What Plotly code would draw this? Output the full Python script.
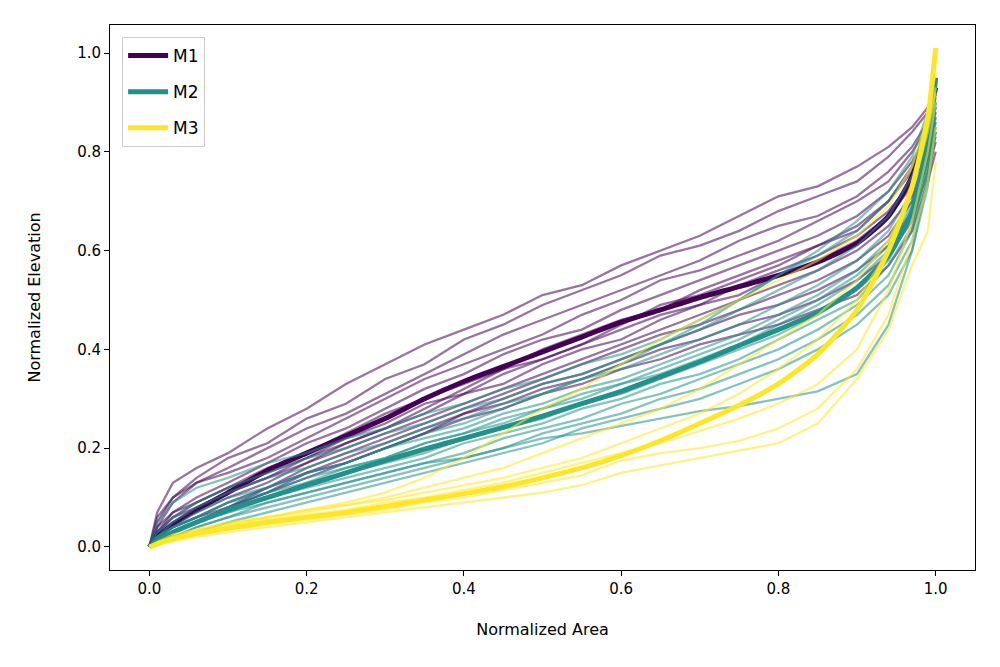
import plotly.graph_objects as go

# Normalized area sample positions
area = [0, .01, .03, .06, .1, .15, .2, .25, .3, .35, .4, .45, .5, .55, .6,
        .65, .7, .75, .8, .85, .9, .94, .97, .99, 1.0]

# Mean hypsometric curves
m1_mean = [0, .02, .045, .075, .11, .155, .19, .225, .26, .30, .335, .365, .395, .425,
           .455, .48, .505, .527, .55, .577, .615, .67, .75, .86, .93]
m2_mean = [0, .012, .03, .05, .075, .10, .125, .15, .175, .198, .22, .242, .265, .29,
           .315, .345, .375, .408, .44, .475, .525, .59, .68, .82, .95]
m3_mean = [0, .006, .016, .027, .038, .05, .06, .07, .082, .095, .108, .122, .14, .16,
           .185, .215, .25, .287, .33, .39, .48, .60, .73, .87, 1.01]

# Individual basins, M1
m1_lines = [
    [0, .07, .13, .16, .19, .24, .28, .33, .37, .41, .44, .47, .51, .53, .57, .60, .63, .67, .71, .73, .77, .81, .85, .89, .93],
    [0, .05, .10, .14, .18, .21, .26, .29, .34, .37, .42, .45, .49, .52, .55, .59, .61, .64, .68, .71, .74, .79, .84, .88, .91],
    [0, .04, .09, .13, .16, .20, .24, .27, .31, .35, .39, .43, .46, .49, .52, .55, .58, .62, .65, .67, .71, .76, .81, .86, .90],
    [0, .06, .10, .13, .15, .18, .22, .26, .30, .34, .37, .40, .43, .47, .50, .54, .56, .59, .62, .66, .70, .74, .80, .85, .89],
    [0, .03, .07, .10, .13, .17, .21, .24, .28, .32, .35, .39, .42, .44, .48, .51, .54, .57, .60, .63, .67, .72, .78, .84, .88],
    [0, .03, .06, .09, .12, .16, .19, .23, .27, .30, .33, .36, .40, .43, .46, .48, .52, .55, .58, .61, .65, .70, .76, .83, .87],
    [0, .04, .07, .09, .12, .15, .18, .22, .25, .29, .31, .35, .38, .41, .44, .47, .49, .53, .56, .59, .63, .68, .74, .82, .86],
    [0, .02, .05, .08, .11, .14, .17, .21, .24, .27, .31, .33, .37, .40, .42, .46, .49, .51, .55, .58, .62, .67, .73, .81, .85],
    [0, .03, .05, .07, .10, .13, .17, .20, .23, .26, .29, .32, .35, .38, .41, .44, .47, .50, .53, .56, .60, .65, .71, .80, .84],
    [0, .02, .04, .06, .09, .12, .16, .19, .22, .25, .28, .31, .34, .37, .40, .43, .45, .48, .51, .54, .58, .63, .70, .79, .84],
    [0, .02, .03, .05, .08, .12, .15, .18, .21, .24, .27, .30, .33, .35, .38, .41, .44, .47, .49, .52, .56, .61, .68, .78, .83],
    [0, .01, .03, .05, .08, .11, .15, .17, .20, .23, .27, .29, .32, .34, .37, .40, .42, .45, .47, .50, .54, .59, .66, .76, .82],
    [0, .02, .04, .06, .08, .11, .14, .17, .20, .23, .26, .28, .31, .33, .36, .38, .41, .43, .45, .48, .51, .57, .64, .74, .80],
    [0, .03, .06, .08, .11, .14, .18, .21, .24, .28, .32, .36, .38, .41, .45, .49, .51, .54, .57, .61, .64, .70, .77, .85, .89],
]

# Individual basins, M2
m2_lines = [
    [0, .05, .09, .12, .14, .17, .19, .22, .24, .27, .29, .32, .34, .37, .39, .42, .46, .50, .55, .60, .66, .72, .79, .88, .95],
    [0, .03, .06, .09, .12, .15, .18, .20, .23, .25, .28, .30, .33, .35, .38, .41, .44, .48, .52, .56, .61, .67, .75, .85, .93],
    [0, .02, .05, .08, .11, .14, .16, .19, .21, .24, .26, .29, .31, .34, .36, .39, .42, .45, .49, .53, .58, .64, .72, .83, .91],
    [0, .02, .04, .07, .10, .12, .15, .17, .20, .22, .24, .27, .29, .32, .34, .37, .40, .43, .47, .51, .56, .62, .70, .82, .90],
    [0, .02, .04, .06, .09, .11, .14, .16, .18, .21, .23, .25, .28, .30, .33, .35, .38, .41, .45, .49, .54, .60, .68, .80, .89],
    [0, .01, .03, .05, .08, .10, .13, .15, .17, .19, .22, .24, .26, .29, .31, .34, .37, .40, .43, .47, .52, .58, .67, .79, .88],
    [0, .01, .03, .05, .07, .10, .12, .14, .16, .18, .21, .23, .25, .28, .30, .33, .35, .38, .42, .46, .50, .57, .65, .78, .87],
    [0, .01, .02, .04, .06, .09, .11, .13, .15, .17, .19, .22, .24, .26, .29, .31, .34, .37, .40, .44, .49, .55, .64, .77, .86],
    [0, .01, .02, .04, .06, .08, .10, .12, .14, .16, .18, .20, .23, .25, .27, .30, .32, .35, .38, .42, .47, .53, .62, .75, .85],
    [0, .01, .02, .03, .05, .07, .09, .11, .13, .15, .17, .19, .21, .24, .26, .28, .30, .33, .36, .40, .45, .51, .60, .73, .84],
    [0, .01, .03, .05, .07, .09, .11, .13, .15, .17, .18, .20, .22, .23, .245, .26, .275, .285, .30, .315, .35, .45, .60, .75, .90],
    [0, .02, .04, .06, .09, .12, .15, .17, .20, .23, .25, .28, .31, .34, .37, .41, .45, .50, .55, .59, .64, .70, .77, .86, .93],
    [0, .01, .03, .05, .08, .11, .13, .16, .18, .21, .23, .26, .28, .31, .33, .36, .39, .42, .46, .50, .55, .61, .69, .81, .90],
]

# Individual basins, M3
m3_lines = [
    [0, .008, .02, .03, .045, .06, .075, .09, .11, .14, .18, .23, .28, .32, .37, .42, .46, .50, .54, .58, .63, .69, .77, .87, .96],
    [0, .005, .012, .02, .03, .04, .05, .06, .07, .08, .09, .10, .11, .125, .15, .165, .18, .195, .21, .25, .34, .44, .57, .64, .78],
    [0, .005, .015, .025, .035, .045, .055, .065, .075, .09, .10, .115, .13, .145, .175, .19, .20, .215, .24, .28, .36, .47, .62, .74, .85],
    [0, .008, .02, .03, .04, .055, .065, .075, .09, .10, .115, .13, .15, .17, .19, .21, .235, .26, .29, .33, .40, .52, .66, .80, .90],
    [0, .01, .025, .035, .05, .06, .075, .085, .095, .11, .125, .14, .16, .18, .21, .24, .27, .31, .36, .42, .50, .60, .72, .85, .93],
    [0, .01, .02, .035, .045, .06, .07, .085, .10, .12, .14, .16, .19, .22, .25, .28, .32, .37, .42, .47, .54, .62, .72, .84, .92],
]

model_names = ["M1", "M2", "M3"]
colors = ["#440154", "#21918c", "#fde725"]
thin_rgba = ["rgba(68,1,84,0.55)", "rgba(33,145,140,0.55)", "rgba(253,231,37,0.55)"]

fig = go.Figure()
groups = [(m1_lines, m1_mean), (m2_lines, m2_mean), (m3_lines, m3_mean)]
for i, (lines, mean) in enumerate(groups):
    for ys in lines:
        fig.add_trace(go.Scatter(x=area, y=ys, mode="lines",
                                 line=dict(color=thin_rgba[i], width=2.3),
                                 showlegend=False, hoverinfo="skip",
                                 legendgroup=model_names[i]))
    fig.add_trace(go.Scatter(x=area, y=mean, mode="lines", name=model_names[i],
                             line=dict(color=colors[i], width=5,
                                       shape="spline", smoothing=0.6),
                             legendgroup=model_names[i]))

axis_common = dict(showgrid=False, zeroline=False, showline=True, mirror=True,
                   linecolor="black", linewidth=1, ticks="outside", ticklen=5,
                   tickcolor="black", tickwidth=1,
                   tickfont=dict(family="DejaVu Sans", size=15, color="black"))

fig.update_layout(
    width=1000, height=667,
    margin=dict(l=102, r=33, t=17, b=105),
    paper_bgcolor="white", plot_bgcolor="white",
    font=dict(family="DejaVu Sans", size=15, color="black"),
    xaxis=dict(range=[-0.05, 1.05], tickvals=[0, .2, .4, .6, .8, 1.0],
               ticktext=["0.0", "0.2", "0.4", "0.6", "0.8", "1.0"],
               title=dict(text="Normalized Area", standoff=26,
                          font=dict(family="DejaVu Sans", size=16)),
               **axis_common),
    yaxis=dict(range=[-0.0466, 1.0567], tickvals=[0, .2, .4, .6, .8, 1.0],
               ticktext=["0.0", "0.2", "0.4", "0.6", "0.8", "1.0"],
               title=dict(text="Normalized Elevation", standoff=32,
                          font=dict(family="DejaVu Sans", size=16)),
               **axis_common),
    legend=dict(x=0.014, y=0.978, xanchor="left", yanchor="top",
                bgcolor="rgba(255,255,255,0.8)", bordercolor="#cccccc", borderwidth=1,
                font=dict(family="DejaVu Sans", size=17, color="black"),
                tracegroupgap=11, itemwidth=40),
)

fig.write_html("out.html")
